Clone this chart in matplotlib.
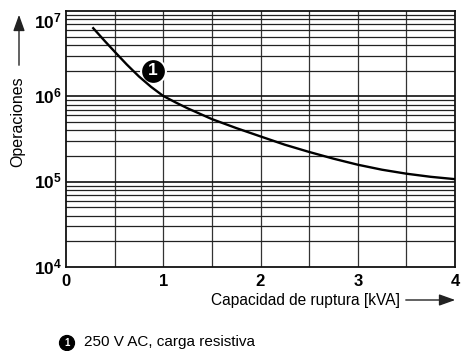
import numpy as np
import matplotlib.pyplot as plt
from matplotlib.patches import FancyArrowPatch
from matplotlib.ticker import FixedLocator, NullFormatter

plt.rcParams['font.family'] = 'Liberation Sans'
plt.rcParams['mathtext.fontset'] = 'custom'
plt.rcParams['mathtext.rm'] = 'Liberation Sans'
plt.rcParams['mathtext.bf'] = 'Liberation Sans:bold'

# Vida eléctrica: capacidad de ruptura [kVA] frente a número de operaciones
kva = [0.28, 0.4, 0.5, 0.625, 0.75, 0.875, 1.0, 1.125, 1.25, 1.5, 1.75, 2.0,
       2.25, 2.5, 2.75, 3.0, 3.25, 3.5, 3.75, 4.0]
ops = [6.29e6, 4.43e6, 3.34e6, 2.36e6, 1.71e6, 1.29e6, 1.01e6, 8.51e5, 7.24e5,
       5.41e5, 4.25e5, 3.39e5, 2.71e5, 2.23e5, 1.86e5, 1.58e5, 1.38e5, 1.24e5,
       1.14e5, 1.07e5]

x_ticks = [0, 1, 2, 3, 4]
y_ticks = [1e4, 1e5, 1e6, 1e7]
y_tick_labels = [r'$\mathbf{10^{4}}$', r'$\mathbf{10^{5}}$', r'$\mathbf{10^{6}}$', r'$\mathbf{10^{7}}$']

marker_pos = (0.89, 2e6)
legend_text = '250 V AC, carga resistiva'

W, H = 462, 351
fig = plt.figure(figsize=(W / 100, H / 100), dpi=100)
ax = fig.add_axes([66 / W, 1 - 267 / H, (455 - 66) / W, (267 - 11) / H])

ax.set_yscale('log')
ax.set_xlim(0, 4)
ax.set_ylim(1e4, 1e7)

# rejilla: líneas verticales cada 0,5 kVA, horizontales en 1..9 x 10^n
for xv in np.arange(0.5, 4.0, 0.5):
    ax.axvline(xv, color='#333333', lw=0.9, zorder=1)
for dec in [1e4, 1e5, 1e6]:
    for m in range(2, 10):
        ax.axhline(m * dec, color='#222222', lw=0.9, zorder=1)
    if dec > 1e4:
        ax.axhline(dec, color='#111111', lw=1.2, zorder=1)

# marca numerada junto a la curva
ax.scatter([marker_pos[0]], [marker_pos[1]], s=320, color='black',
           edgecolor='white', linewidth=1.5, zorder=3)
ax.text(marker_pos[0], marker_pos[1], '1', color='white', fontsize=12.5,
        fontweight='bold', ha='center', va='center', zorder=5)

ax.plot(kva, ops, color='black', lw=1.7, zorder=4, solid_joinstyle='round')

ax.xaxis.set_major_locator(FixedLocator(x_ticks))
ax.set_xticklabels([str(v) for v in x_ticks], fontsize=12, fontweight='bold')
ax.yaxis.set_major_locator(FixedLocator(y_ticks))
ax.set_yticklabels(y_tick_labels, fontsize=12.5)
ax.yaxis.set_minor_formatter(NullFormatter())
ax.tick_params(which='both', length=0)
ax.tick_params(axis='x', pad=5)
ax.tick_params(axis='y', pad=3)
ax.get_yticklabels()[-1].set_va('top')
for lbl in ax.get_yticklabels()[:-1]:
    lbl.set_va('center')

for s in ax.spines.values():
    s.set_linewidth(1.3)
    s.set_color('#111111')

# títulos de ejes con flechas
fig.text(18 / W, 1 - 122 / H, 'Operaciones', rotation=90, fontsize=11.5,
         ha='center', va='center')
fig.add_artist(FancyArrowPatch(
    (19 / W, 1 - 68 / H), (19 / W, 1 - 12 / H), transform=fig.transFigure,
    arrowstyle='-|>,head_length=0.7,head_width=0.25', mutation_scale=14,
    color='#222222', lw=1))

fig.text(400 / W, 1 - 300 / H, 'Capacidad de ruptura [kVA]', fontsize=11.2,
         ha='right', va='center')
fig.add_artist(FancyArrowPatch(
    (403 / W, 1 - 300 / H), (458 / W, 1 - 300 / H), transform=fig.transFigure,
    arrowstyle='-|>,head_length=0.7,head_width=0.25', mutation_scale=14,
    color='#222222', lw=1))

# leyenda
fig.text(67 / W, 1 - 343 / H, '1', color='white', fontsize=7, fontweight='bold',
         ha='center', va='center',
         bbox=dict(boxstyle='circle,pad=0.25', fc='black', ec='black'))
fig.text(84 / W, 1 - 342 / H, legend_text, fontsize=11, ha='left', va='center')

fig.savefig('out.png', dpi=100)
